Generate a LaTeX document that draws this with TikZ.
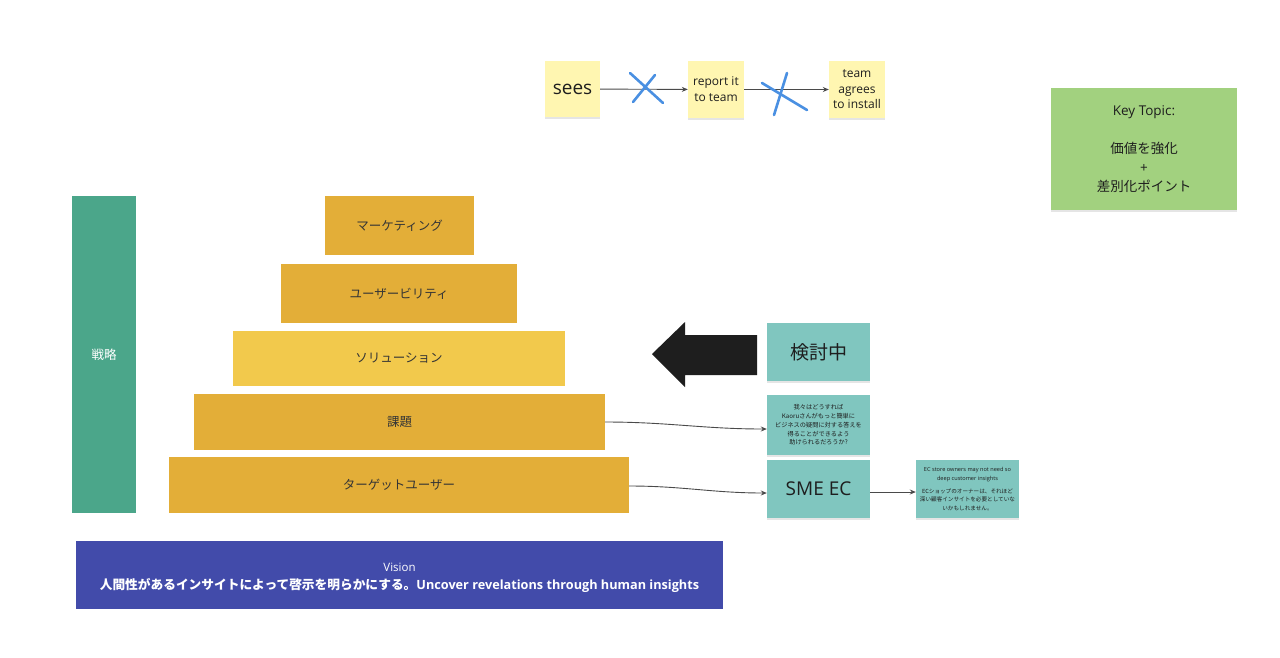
\documentclass[tikz,border=0pt]{standalone}
\usepackage{fontspec}
\setmainfont{Open Sans}
\newfontfamily\jp{Noto Sans CJK JP}
\usetikzlibrary{arrows.meta,shadows}
\definecolor{sticky}{HTML}{FFF6B1}
\definecolor{keygreen}{HTML}{A2D17F}
\definecolor{stratgreen}{HTML}{4BA68A}
\definecolor{gold}{HTML}{E3AE38}
\definecolor{goldlight}{HTML}{F2C94C}
\definecolor{tealbox}{HTML}{80C6BF}
\definecolor{visionblue}{HTML}{424BAA}
\definecolor{xblue}{HTML}{4A90E2}
\definecolor{txt}{HTML}{1E1E1E}
\definecolor{conn}{HTML}{4A4A4A}
\begin{document}
\begin{tikzpicture}[x=1pt,y=-1pt,
  base/.style={inner sep=0pt, align=center, text=txt},
  note/.style={base, drop shadow={shadow xshift=0pt, shadow yshift=-1.5pt, opacity=0.1, fill=black}},
  stickynote/.style={note, fill=sticky},
  tealnote/.style={note, fill=tealbox},
  tier/.style={base, fill=gold, font=\jp\fontsize{12.5}{14}\selectfont, text=txt!90},
  link/.style={draw=conn, line width=0.9pt, -{Stealth[length=6pt,width=5pt]}},
  xmark/.style={draw=xblue, line width=2.6pt, line cap=round}]
\useasboundingbox[fill=white] (0,0) rectangle (1280,657);

% top flow
\node[stickynote, minimum width=55pt, minimum height=56pt, font=\fontsize{19}{22}\selectfont] (sees) at (572.5,89) {sees};
\node[stickynote, minimum width=56pt, minimum height=57pt, font=\fontsize{12}{16}\selectfont] (report) at (716,89.5) {report it\\to team};
\node[stickynote, minimum width=56pt, minimum height=57pt, font=\fontsize{12}{15.5}\selectfont] (team) at (857,89.5) {team\\agrees\\to install};
\draw[link] (sees) -- (report);
\draw[link] (report) -- (team);
\draw[xmark] (630,73) -- (663,103);
\draw[xmark] (655,75) -- (633,102);
\draw[xmark] (762,83) -- (807,110);
\draw[xmark] (787,73) -- (774,115);

% key topic
\node[note, fill=keygreen, minimum width=186pt, minimum height=122pt, font=\fontsize{13.5}{19}\selectfont] (key) at (1144,149)
  {Key Topic:\\[19pt]{\jp 価値を強化}\\+\\{\jp 差別化ポイント}};

% strategy bar
\node[base, fill=stratgreen, text=white, minimum width=64pt, minimum height=317pt, font=\jp\fontsize{12.5}{14}\selectfont] (strat) at (104,354.5) {戦略};

% pyramid
\node[tier, minimum width=149pt, minimum height=59pt] (mkt) at (399.5,225.5) {マーケティング};
\node[tier, minimum width=236pt, minimum height=59pt] (usab) at (399,293.5) {ユーザービリティ};
\node[tier, fill=goldlight, minimum width=332pt, minimum height=55pt] (sol) at (399,358.5) {ソリューション};
\node[tier, minimum width=411pt, minimum height=56pt] (kadai) at (399.5,422) {課題};
\node[tier, minimum width=460pt, minimum height=56pt] (target) at (399,485) {ターゲットユーザー};

% big arrow
\fill[txt] (652,354) -- (685,322) -- (685,335) -- (757,335) -- (757,375) -- (685,375) -- (685,387) -- cycle;

% right notes
\node[tealnote, minimum width=103pt, minimum height=58pt, font=\jp\fontsize{19}{22}\selectfont] (kento) at (818.5,352) {検討中};
\node[tealnote, minimum width=103pt, minimum height=60pt, font=\jp\fontsize{6.2}{8.7}\selectfont] (note1) at (818.5,425)
  {我々はどうすれば\\Kaoruさんがもっと簡単に\\ビジネスの疑問に対する答えを\\得ることができるよう\\助けられるだろうか?};
\node[tealnote, minimum width=103pt, minimum height=58pt, font=\fontsize{19}{22}\selectfont] (sme) at (818.5,489) {SME EC};
\node[tealnote, minimum width=103pt, minimum height=58pt, font=\fontsize{5.6}{8.3}\selectfont] (note2) at (967.5,489)
  {EC store owners may not need so\\deep customer insights\\[5pt]{\jp ECショップのオーナーは、それほど}\\{\jp 深い顧客インサイトを必要としていな}\\{\jp いかもしれません。}};

\draw[link] (kadai.east) to[out=0, in=180] ([yshift=-4pt]note1.west);
\draw[link] ([yshift=-1pt]target.east) to[out=0, in=180] ([yshift=-4pt]sme.west);
\draw[link] ([yshift=-3pt]sme.east) -- ([yshift=-3pt]note2.west);

% vision
\node[base, fill=visionblue, minimum width=647pt, minimum height=68pt] (vision) at (399.5,575) {};
\node[base, text=white, font=\fontsize{12.7}{18.5}\selectfont] (visiontext) at ([yshift=-3pt]vision.center)
  {{\fontsize{11.5}{18.5}\selectfont Vision}\\{\bfseries{\jp 人間性があるインサイトによって啓示を明らかにする。}Uncover revelations through human insights}};
\end{tikzpicture}
\end{document}
